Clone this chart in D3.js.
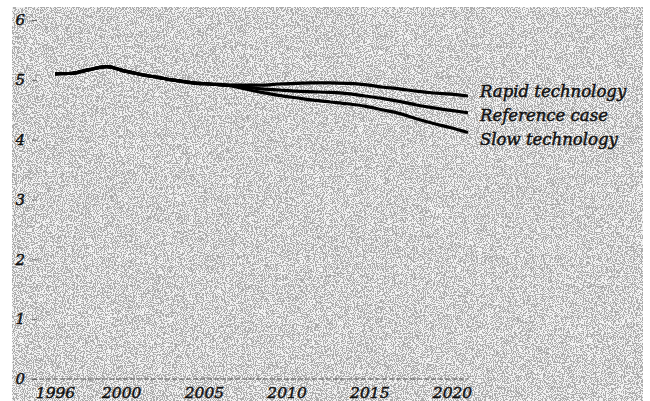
<!DOCTYPE html>
<html lang="en">
    <head>
        <meta charset="utf-8">
        <title>Projection chart</title>
        <script type="text/javascript" src="https://cdn.jsdelivr.net/npm/d3@7"></script>
        <style type="text/css">
            body { margin: 0; background: #fff; }
            svg text { font-family: "DejaVu Serif", serif; font-style: italic; fill: #111; stroke: #111; stroke-width: 0.45px; }
        </style>
    </head>

    <body>
        <script type="text/javascript">
            // Data
            var years = [1996, 1997, 1998, 1999, 2000, 2001, 2002, 2003, 2004, 2005, 2006,
                         2007, 2008, 2009, 2010, 2011, 2012, 2013, 2014, 2015, 2016, 2017, 2018, 2019, 2020];
            var historical = [5.10, 5.11, 5.17, 5.22, 5.15, 5.09, 5.04, 4.99, 4.95, 4.93, 4.91];
            var rapid = [4.91, 4.91, 4.93, 4.94, 4.95, 4.95, 4.94, 4.92, 4.88, 4.85, 4.81, 4.78, 4.76, 4.73];
            var reference = [4.88, 4.85, 4.83, 4.81, 4.80, 4.79, 4.77, 4.73, 4.69, 4.64, 4.58, 4.53, 4.49, 4.45];
            var slow = [4.85, 4.79, 4.74, 4.70, 4.66, 4.63, 4.60, 4.56, 4.50, 4.44, 4.35, 4.27, 4.20, 4.12];
            var seriesNames = ["Rapid technology", "Reference case", "Slow technology"];
            var yTicks = [0, 1, 2, 3, 4, 5, 6];
            var xTicks = [1996, 2000, 2005, 2010, 2015, 2020];

            var w = 650;
            var h = 401;
            var svg = d3.select("body")
                    .append("svg")
                    .attr("width", w)
                    .attr("height", h);

            // Grainy gray paper, like the printed original
            var defs = svg.append("defs");
            var f = defs.append("filter").attr("id", "grain")
                    .attr("x", 0).attr("y", 0).attr("width", 1).attr("height", 1);
            f.append("feTurbulence")
                .attr("type", "fractalNoise")
                .attr("baseFrequency", 0.9)
                .attr("numOctaves", 1)
                .attr("seed", 4);
            f.append("feColorMatrix")
                .attr("type", "matrix")
                .attr("values", "1 0 0 0 0  1 0 0 0 0  1 0 0 0 0  0 0 0 0 1");
            var ct = f.append("feComponentTransfer");
            ["feFuncR", "feFuncG", "feFuncB"].forEach(function(n) {
                ct.append(n).attr("type", "discrete").attr("tableValues", "0.42 0.88");
            });

            svg.append("rect")
                .attr("x", 12)
                .attr("y", 7)
                .attr("width", 631)
                .attr("height", h - 7)
                .attr("filter", "url(#grain)");

            // Scales: the printed year labels sit on a slightly tighter spacing than the curves
            var xScale = d3.scaleLinear()
                            .domain([1996, 2020])
                            .range([55, 468]);
            var xLabelScale = d3.scaleLinear()
                            .domain([1996, 2020])
                            .range([55, 452]);
            var yScale = d3.scaleLinear()
                            .domain([0, 6])
                            .range([379, 20]);

            // Build series: shared history, then three projections
            var nHist = historical.length;
            var futureYears = years.slice(nHist);
            function build(proj) {
                var pts = historical.map(function(v, i) { return [years[i], v]; });
                proj.forEach(function(v, i) { pts.push([futureYears[i], v]); });
                return pts;
            }
            var series = [build(rapid), build(reference), build(slow)];

            // Baseline at zero
            svg.append("line")
                .attr("x1", 32)
                .attr("x2", xScale(2020))
                .attr("y1", yScale(0))
                .attr("y2", yScale(0))
                .attr("stroke", "#555")
                .attr("stroke-width", 1)
                .attr("stroke-dasharray", "5,2");

            // Axes
            var yAxis = d3.axisLeft(yScale)
                            .tickValues(yTicks)
                            .tickFormat(d3.format("d"))
                            .tickSize(5)
                            .tickPadding(7);
            var gy = svg.append("g")
                .attr("class", "axis")
                .attr("transform", "translate(37,0)")
                .call(yAxis);
            gy.select(".domain").remove();
            gy.selectAll("line").attr("stroke", "#666");
            gy.selectAll("text")
                .attr("font-size", "15px")
                .attr("font-family", "DejaVu Serif")
                .attr("font-style", "italic");

            var xAxis = d3.axisBottom(xLabelScale)
                            .tickValues(xTicks)
                            .tickFormat(d3.format("d"))
                            .tickSize(0)
                            .tickPadding(8);
            var gx = svg.append("g")
                .attr("class", "axis")
                .attr("transform", "translate(0," + yScale(0) + ")")
                .call(xAxis);
            gx.select(".domain").remove();
            gx.selectAll("text")
                .attr("font-size", "15.5px")
                .attr("font-family", "DejaVu Serif")
                .attr("font-style", "italic");

            // Lines
            var line = d3.line()
                .x(function(d) { return xScale(d[0]); })
                .y(function(d) { return yScale(d[1]); })
                .curve(d3.curveMonotoneX);

            svg.selectAll("path.series")
                .data(series)
                .enter()
                .append("path")
                .attr("class", "series")
                .attr("d", line)
                .attr("fill", "none")
                .attr("stroke", "#000")
                .attr("stroke-width", 3.2)
                .attr("stroke-linecap", "butt");

            // Labels at the right
            svg.selectAll("text.label")
                .data(seriesNames)
                .enter()
                .append("text")
                .attr("class", "label")
                .attr("x", 480)
                .attr("y", function(d, i) { return 97 + i * 24; })
                .attr("font-size", "16.5px")
                .text(function(d) { return d; });
        </script>
    </body>
</html>
